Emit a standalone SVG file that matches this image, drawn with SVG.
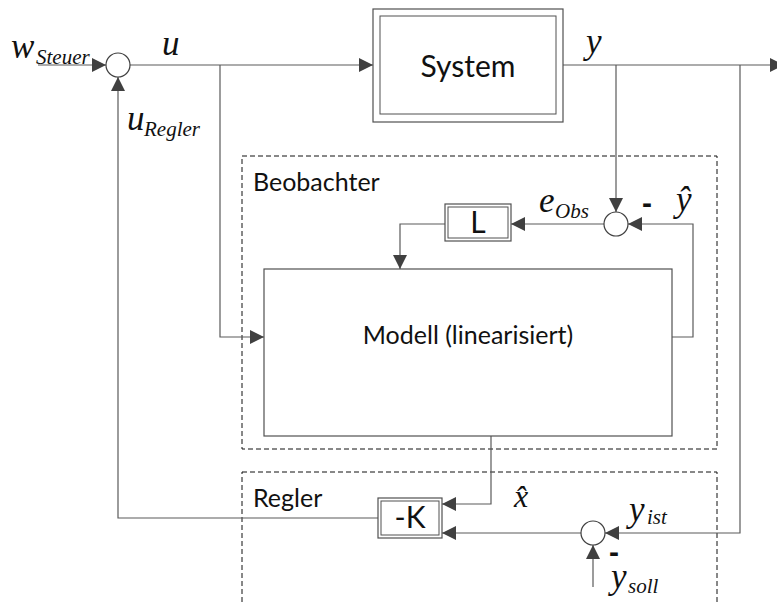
<svg xmlns="http://www.w3.org/2000/svg" width="777" height="604" viewBox="0 0 777 604">
<defs>
<marker id="arr" markerUnits="userSpaceOnUse" markerWidth="14" markerHeight="14" refX="14" refY="7" orient="auto">
<path d="M0,0 L14,7 L0,14 Z" fill="#404040"/>
</marker>
<style>
.ln{fill:none;stroke:#5a5a5a;stroke-width:1.2}
.arrow{marker-end:url(#arr)}
.box{fill:#fff;stroke:#505050;stroke-width:1.2}
.inner{fill:none;stroke:#505050;stroke-width:1}
.dash{fill:none;stroke:#111;stroke-width:1;stroke-dasharray:5,3}
.sum{fill:#fff;stroke:#404040;stroke-width:1.2}
.lbl{font-family:Lato,"Liberation Sans",sans-serif;fill:#111}
.big{font-size:30px}
.mid{font-size:25px}
.m{font-family:"Liberation Serif",serif;font-style:italic;fill:#111;font-size:35px}
.sub{font-size:21px}
.minus{font-family:"Liberation Sans",sans-serif;font-weight:bold;font-size:30px;fill:#111}
</style>
</defs>
<rect width="777" height="604" fill="#fff"/>

<g id="beobachter">
<rect class="dash" x="242" y="156" width="475" height="293"/>
<text class="lbl mid" x="253" y="191">Beobachter</text>
</g>
<g id="regler">
<rect class="dash" x="242" y="472" width="475" height="150"/>
<text class="lbl mid" x="253" y="507">Regler</text>
</g>

<g id="connectors">
<path class="ln arrow" d="M38,65 H106"/>
<path class="ln arrow" d="M130,65 H373"/>
<path class="ln arrow" d="M220,65 V337 H264"/>
<path class="ln arrow" d="M563,65 H784"/>
<path class="ln arrow" d="M616,65 V212"/>
<path class="ln arrow" d="M740,65 V533 H605"/>
<path class="ln arrow" d="M604,224 H511"/>
<path class="ln arrow" d="M445,224 H400 V269"/>
<path class="ln arrow" d="M672,337 H693 V224 H628"/>
<path class="ln arrow" d="M491,436 V504 H442"/>
<path class="ln arrow" d="M581,533 H442"/>
<path class="ln arrow" d="M593,587 V545"/>
<path class="ln arrow" d="M378,518 H118 V77"/>
</g>

<g id="sum_u">
<circle class="sum" cx="118" cy="65" r="12"/>
</g>
<g id="system">
<rect class="box" x="373" y="9" width="190" height="113"/>
<rect class="inner" x="380" y="16" width="176" height="98"/>
<text class="lbl big" x="468" y="77" text-anchor="middle">System</text>
</g>
<g id="sum_obs">
<circle class="sum" cx="616" cy="224" r="12"/>
</g>
<g id="gain_L">
<rect class="box" x="445" y="204" width="66" height="37"/>
<rect class="inner" x="448" y="207" width="60" height="31"/>
<text class="lbl big" x="478" y="233" text-anchor="middle">L</text>
</g>
<g id="modell">
<rect class="box" x="264" y="269" width="408" height="167"/>
<text class="lbl mid" x="468" y="344" text-anchor="middle">Modell (linearisiert)</text>
</g>
<g id="gain_K">
<rect class="box" x="378" y="498" width="64" height="40"/>
<rect class="inner" x="381" y="501" width="58" height="34"/>
<text class="lbl big" x="410" y="528" text-anchor="middle">-K</text>
</g>
<g id="sum_reg">
<circle class="sum" cx="593" cy="533" r="12"/>
</g>

<g id="labels">
<text class="m" x="11" y="58">w</text><text class="m sub" x="36" y="64">Steuer</text>
<text class="m" x="162" y="55">u</text>
<text class="m" x="586" y="53">y</text>
<text class="m" x="127" y="130">u</text><text class="m sub" x="144" y="136">Regler</text>
<text class="m" x="539" y="212">e</text><text class="m sub" x="555" y="218">Obs</text>
<text class="minus" x="642" y="213">-</text>
<text class="m" x="676" y="211">ŷ</text>
<text class="m" x="514" y="507" style="font-size:32px">x̂</text>
<text class="m" x="629" y="521">y</text><text class="m sub" x="647" y="524">ist</text>
<text class="minus" x="609" y="562">-</text>
<text class="m" x="611" y="588">y</text><text class="m sub" x="628" y="593">soll</text>
</g>
</svg>
